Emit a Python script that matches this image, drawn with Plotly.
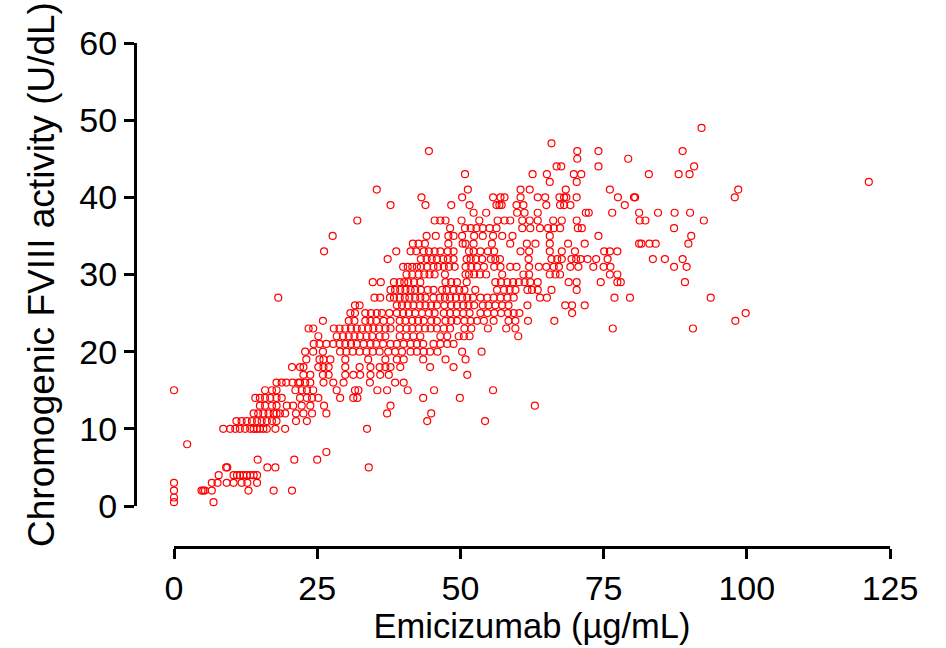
import plotly.graph_objects as go

# FVIII activity levels (U/dL) and the emicizumab concentrations (ug/mL) read at each level
fviii_levels = [0.5, 1.1, 2, 3, 4, 5, 6, 7, 8, 10, 11, 12, 13, 14, 15, 16, 17, 18, 19, 20,
                21, 22, 23, 24, 25, 26, 27, 28, 29, 30, 31, 32, 33, 34, 35, 36, 37, 38, 39,
                40, 41, 42, 43, 44, 45, 46, 47, 49]

emicizumab_rows = [
    [0, 6.9],
    [0],
    [0, 4.8, 5.1, 5.4, 6.6, 13.0, 17.4, 20.6],
    [0, 6.6, 7.6, 9.2, 10.4, 11.8, 12.8, 14.5],
    [7.8, 10.4, 11.0, 11.5, 12.1, 12.7, 13.3, 13.9, 14.5],
    [9.1, 9.3, 16.3, 17.7, 34.0],
    [14.6, 21.0, 25.0],
    [26.6],
    [2.3],
    [8.6, 9.8, 10.7, 11.5, 12.4, 13.3, 13.9, 14.5, 15.0, 15.6, 16.2, 17.7, 19.4, 33.7],
    [10.9, 11.8, 12.7, 13.6, 14.5, 15.3, 16.2, 17.1, 17.9, 21.3, 23.2, 44.2, 54.3],
    [13.9, 14.7, 15.6, 16.5, 17.4, 17.9, 18.5, 19.4, 21.3, 22.6, 24.1, 26.6, 37.2, 44.9],
    [15.0, 15.9, 17.1, 17.9, 19.7, 20.8, 22.3, 23.8, 26.2, 37.8, 63.0],
    [14.2, 15.0, 15.9, 16.8, 17.9, 18.8, 22.0, 23.2, 24.1, 25.2, 29.0, 31.3, 32.0, 43.5, 49.9],
    [0, 15.9, 17.1, 17.9, 21.2, 22.3, 23.2, 24.3, 28.4, 31.6, 32.2, 35.5, 37.2, 40.8, 45.4, 55.7],
    [17.9, 18.8, 19.6, 20.7, 21.7, 22.0, 22.9, 23.8, 26.1, 27.8, 29.6, 34.2, 38.6, 40.1],
    [22.6, 23.8, 26.0, 27.0, 29.9, 31.3, 32.5, 34.3, 36.0, 37.5, 51.2],
    [20.6, 22.0, 22.6, 25.2, 26.1, 27.0, 29.9, 32.4, 34.3, 35.9, 36.9, 37.8, 39.5, 44.7, 48.8],
    [23.1, 25.4, 26.1, 27.3, 29.9, 33.9, 36.9, 38.9, 40.1, 43.5, 47.4, 50.9],
    [22.9, 24.3, 26.0, 29.0, 30.1, 31.2, 32.4, 33.6, 34.7, 35.9, 37.4, 38.6, 39.8, 41.3,
     42.4, 43.6, 44.7, 46.0, 50.3, 53.7],
    [24.4, 25.4, 26.6, 27.8, 28.9, 29.9, 30.9, 31.9, 33.1, 34.3, 35.3, 36.5, 37.8, 38.9,
     40.1, 41.3, 42.4, 43.5, 45.3, 46.5, 47.7, 48.8],
    [25.2, 28.4, 29.5, 30.5, 31.5, 32.5, 33.6, 34.6, 35.9, 36.9, 39.4, 40.6, 41.8, 43.0,
     46.5, 47.7, 49.7, 50.6, 51.6, 60.1],
    [23.5, 24.3, 27.9, 28.9, 29.9, 30.9, 31.9, 32.8, 33.9, 34.8, 35.8, 36.9, 37.8, 39.4,
     40.6, 41.6, 42.7, 43.8, 44.8, 45.9, 47.1, 48.2, 50.7, 51.9, 54.8, 58.0, 59.6, 76.6, 90.6],
    [26.0, 30.5, 31.5, 33.4, 34.3, 35.3, 36.6, 37.8, 39.4, 40.4, 41.6, 42.6, 43.6, 44.9,
     45.9, 47.4, 48.4, 49.4, 50.7, 51.8, 52.9, 54.1, 55.8, 58.4, 59.6, 61.8, 66.4, 98.0],
    [30.8, 31.6, 33.4, 34.4, 35.4, 36.3, 37.6, 38.9, 40.0, 41.0, 42.1, 43.3, 44.5, 45.5,
     47.1, 48.2, 49.3, 50.5, 51.6, 53.5, 54.7, 55.9, 57.1, 58.3, 59.3, 60.3, 69.5, 99.8],
    [31.6, 32.4, 38.9, 39.8, 40.8, 41.8, 42.9, 43.9, 44.9, 45.9, 47.2, 48.4, 49.4, 50.5,
     51.4, 52.4, 53.9, 54.9, 56.1, 57.3, 58.4, 61.7, 68.3, 69.5, 71.7],
    [18.2, 35.0, 36.0, 37.7, 38.4, 39.4, 40.3, 41.1, 42.1, 43.0, 43.9, 45.3, 46.4, 47.3,
     48.2, 49.2, 50.3, 51.2, 52.2, 53.5, 54.7, 55.8, 57.0, 58.2, 59.3, 63.9, 65.1, 76.9,
     79.6, 93.7],
    [37.8, 38.6, 39.5, 40.4, 41.3, 42.1, 43.1, 44.3, 45.3, 46.8, 47.6, 48.8, 49.8, 50.7,
     52.6, 56.4, 57.6, 58.6, 59.6, 61.7, 62.5, 63.5, 65.9, 70.3],
    [34.7, 36.1, 38.4, 39.4, 40.2, 40.9, 41.9, 43.0, 47.4, 48.4, 49.4, 51.1, 56.1, 57.1,
     58.2, 59.2, 60.2, 61.2, 62.2, 63.5, 68.9, 70.3, 74.5, 77.4, 78.0, 89.2],
    [40.6, 41.6, 42.7, 43.7, 44.6, 45.5, 47.3, 50.9, 51.5, 52.4, 53.4, 54.5, 57.3, 61.0,
     62.0, 65.6, 66.6, 67.4, 76.1, 77.4],
    [40.0, 40.8, 41.6, 42.4, 43.1, 44.2, 45.3, 46.1, 47.1, 48.0, 49.0, 50.9, 51.9, 52.9,
     54.1, 55.9, 57.0, 58.7, 59.8, 62.0, 63.7, 65.0, 66.3, 67.2, 69.2, 70.6, 73.2, 75.0,
     76.2, 87.3, 89.5],
    [37.3, 43.1, 44.1, 45.0, 45.9, 47.0, 47.8, 48.8, 51.1, 51.8, 52.7, 53.8, 55.3, 56.1,
     56.9, 61.9, 65.9, 66.9, 67.7, 69.4, 70.2, 71.0, 72.2, 73.7, 75.7, 83.6, 85.7, 88.8],
    [26.2, 38.8, 41.3, 42.3, 43.6, 44.5, 45.5, 46.5, 47.8, 48.8, 51.5, 52.3, 53.5, 54.8,
     55.9, 60.5, 62.0, 65.6, 67.7, 70.0, 75.1, 76.1, 77.4],
    [41.7, 42.7, 43.8, 47.9, 50.4, 50.9, 52.3, 55.5, 58.7, 61.6, 63.1, 65.6, 68.8, 71.7,
     81.2, 81.6, 83.0, 84.1, 89.8],
    [27.7, 44.1, 45.7, 47.9, 48.8, 50.3, 52.4, 53.9, 55.7, 57.3, 59.1, 65.6, 74.1, 90.3],
    [48.2, 50.8, 51.8, 52.8, 53.9, 55.1, 56.3, 60.8, 62.2, 63.9, 65.3, 66.3, 67.4, 70.5,
     71.2, 87.3],
    [32.0, 45.5, 46.5, 47.4, 50.2, 53.3, 56.5, 57.7, 58.7, 60.8, 62.1, 63.5, 66.2, 67.7,
     70.3, 81.3, 82.3, 92.5],
    [52.3, 54.5, 59.9, 61.2, 63.5, 71.9, 72.4, 76.5, 81.2, 84.5, 87.4, 90.1],
    [37.8, 43.9, 48.4, 51.6, 56.3, 56.8, 57.2, 59.8, 61.0, 65.0, 67.4, 68.1, 69.2, 78.7],
    [43.2, 50.3, 55.7, 57.0, 57.7, 60.5, 63.5, 64.8, 67.3, 68.1, 68.5, 70.3, 77.5, 80.3,
     80.5, 97.9],
    [35.4, 51.3, 60.5, 62.1, 68.4, 76.1, 98.5],
    [65.6, 70.3, 121.3],
    [50.8, 62.6, 65.1, 69.8, 71.1, 82.9, 88.1, 90.0],
    [66.8, 67.6, 74.1, 90.8],
    [70.4, 79.3],
    [44.5, 70.4, 74.1, 88.8],
    [65.9],
    [92.1],
]

x_ticks = [0, 25, 50, 75, 100, 125]
y_ticks = [0, 10, 20, 30, 40, 50, 60]
x_title = "Emicizumab (µg/mL)"
y_title = "Chromogenic FVIII activity (U/dL)"

xs, ys = [], []
for level, row in zip(fviii_levels, emicizumab_rows):
    for v in row:
        xs.append(v)
        ys.append(level)

font_family = "Liberation Sans, Arial, sans-serif"

fig = go.Figure(
    go.Scatter(
        x=xs, y=ys, mode="markers", cliponaxis=False,
        marker=dict(symbol="circle-open", size=7, color="#ff0000",
                    line=dict(width=1.2, color="#ff0000")),
        showlegend=False,
    )
)

axis_common = dict(
    showline=True, linecolor="black", linewidth=3,
    ticks="outside", ticklen=10, tickwidth=3, tickcolor="black",
    showgrid=False, zeroline=False,
    tickfont=dict(family=font_family, size=34, color="black"),
)

fig.update_layout(
    width=946, height=648,
    margin=dict(l=135, r=56, t=43, b=101),
    paper_bgcolor="white", plot_bgcolor="white",
    font=dict(family=font_family, color="black"),
    xaxis=dict(domain=[0.05166, 1], anchor="free", position=0, range=[0, 125],
               tickmode="array", tickvals=x_ticks,
               title=dict(text=x_title, font=dict(family=font_family, size=34.5, color="black"),
                          standoff=6),
               **axis_common),
    yaxis=dict(domain=[0.08135, 1], anchor="free", position=0, range=[0, 60],
               tickmode="array", tickvals=y_ticks,
               title=dict(text=y_title, font=dict(family=font_family, size=37, color="black"),
                          standoff=12),
               **axis_common),
)

fig.write_html("out.html")
